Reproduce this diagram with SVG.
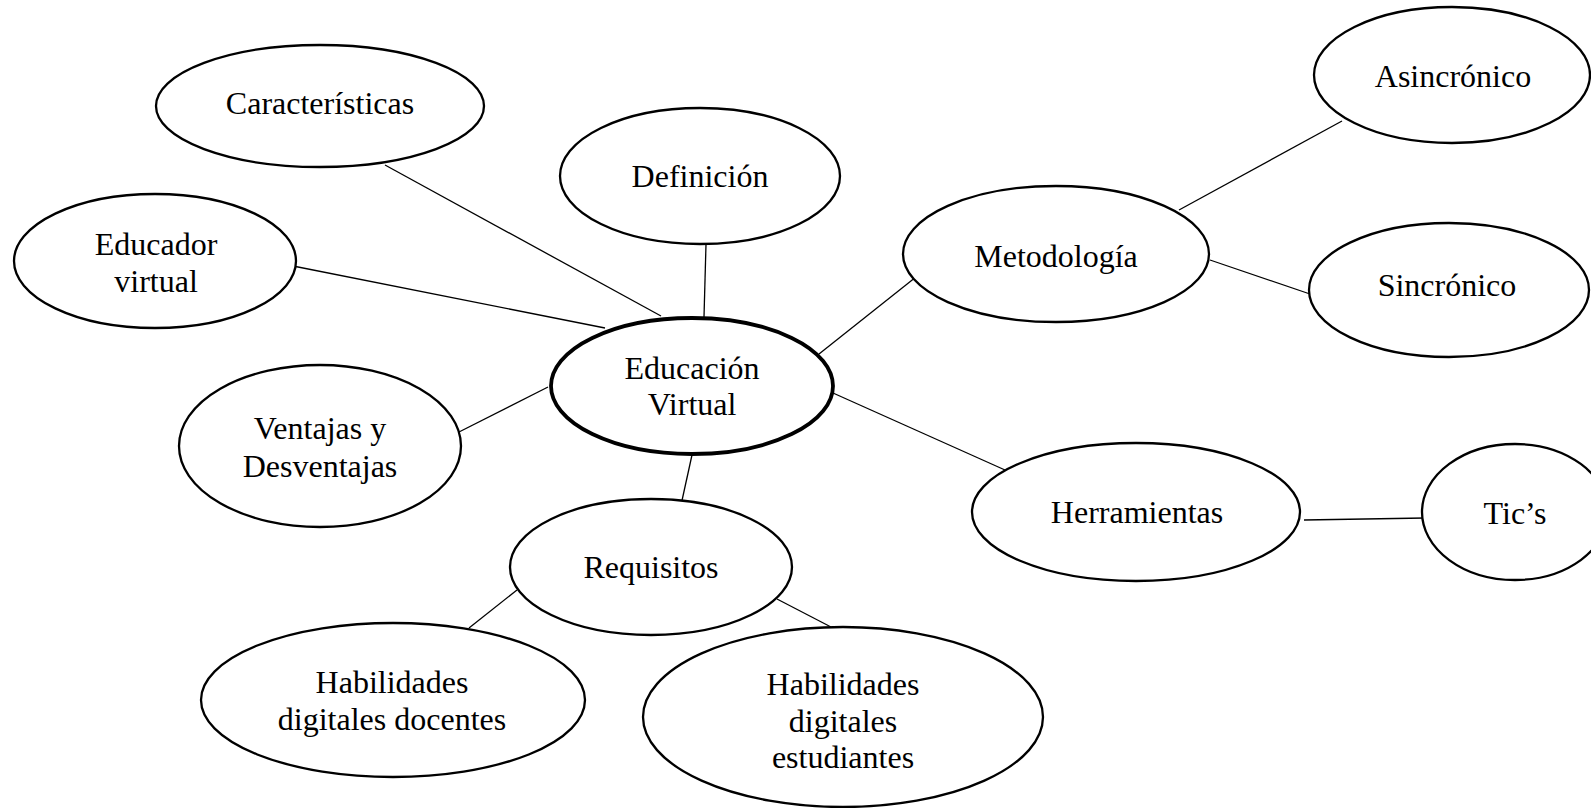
<svg xmlns="http://www.w3.org/2000/svg" width="1591" height="808" viewBox="0 0 1591 808">
<style>
.n{fill:#fff;stroke:#000;stroke-width:2.3}
.c{fill:#fff;stroke:#000;stroke-width:3.8}
.t{font-family:"Liberation Serif","Times New Roman",serif;font-size:32px;fill:#000;text-anchor:middle}
.l{stroke:#000;stroke-width:1.3;fill:none}
</style>
<rect width="1591" height="808" fill="#fff"/>
<g id="connectors">
<line class="l" x1="385" y1="165" x2="661" y2="316"/>
<line class="l" x1="706" y1="244" x2="704" y2="317"/>
<line class="l" x1="293" y1="266" x2="605" y2="328"/>
<line class="l" x1="459" y1="432" x2="548" y2="387"/>
<line class="l" x1="692" y1="455" x2="681" y2="505"/>
<line class="l" x1="819" y1="354" x2="921" y2="273"/>
<line class="l" x1="833" y1="393" x2="1005" y2="470"/>
<line class="l" x1="1179" y1="210" x2="1342" y2="121"/>
<line class="l" x1="1210" y1="260" x2="1310" y2="294"/>
<line class="l" x1="1304" y1="520" x2="1425" y2="518"/>
<line class="l" x1="517" y1="590" x2="469" y2="628"/>
<line class="l" x1="777" y1="599" x2="831" y2="627"/>
</g>
<g id="n-caracteristicas"><ellipse class="n" cx="320" cy="106" rx="164" ry="61"/><text class="t" x="320" y="114">Características</text></g>
<g id="n-definicion"><ellipse class="n" cx="700" cy="176" rx="140" ry="68"/><text class="t" x="700" y="187">Definición</text></g>
<g id="n-educador"><ellipse class="n" cx="155" cy="261" rx="141" ry="67"/><text class="t" x="156" y="255">Educador</text><text class="t" x="156" y="292">virtual</text></g>
<g id="n-ventajas"><ellipse class="n" cx="320" cy="446" rx="141" ry="81"/><text class="t" x="320" y="439">Ventajas y</text><text class="t" x="320" y="477">Desventajas</text></g>
<g id="n-requisitos"><ellipse class="n" cx="651" cy="567" rx="141" ry="68"/><text class="t" x="651" y="578">Requisitos</text></g>
<g id="n-hab-docentes"><ellipse class="n" cx="393" cy="700" rx="192" ry="77"/><text class="t" x="392" y="693">Habilidades</text><text class="t" x="392" y="730">digitales docentes</text></g>
<g id="n-hab-estudiantes"><ellipse class="n" cx="843" cy="717" rx="200" ry="90"/><text class="t" x="843" y="695">Habilidades</text><text class="t" x="843" y="732">digitales</text><text class="t" x="843" y="768">estudiantes</text></g>
<g id="n-metodologia"><ellipse class="n" cx="1056" cy="254" rx="153" ry="68"/><text class="t" x="1056" y="267">Metodología</text></g>
<g id="n-asincronico"><ellipse class="n" cx="1452" cy="75" rx="138" ry="68"/><text class="t" x="1453" y="87">Asincrónico</text></g>
<g id="n-sincronico"><ellipse class="n" cx="1449" cy="290" rx="140" ry="67"/><text class="t" x="1447" y="296">Sincrónico</text></g>
<g id="n-herramientas"><ellipse class="n" cx="1136" cy="512" rx="164" ry="69"/><text class="t" x="1137" y="523">Herramientas</text></g>
<g id="n-tics"><ellipse class="n" cx="1515" cy="512" rx="93" ry="68"/><text class="t" x="1515" y="524">Tic’s</text></g>
<g id="n-educacion-virtual"><ellipse class="c" cx="692" cy="386" rx="141" ry="68"/><text class="t" x="692" y="379">Educación</text><text class="t" x="692" y="415">Virtual</text></g>
</svg>
